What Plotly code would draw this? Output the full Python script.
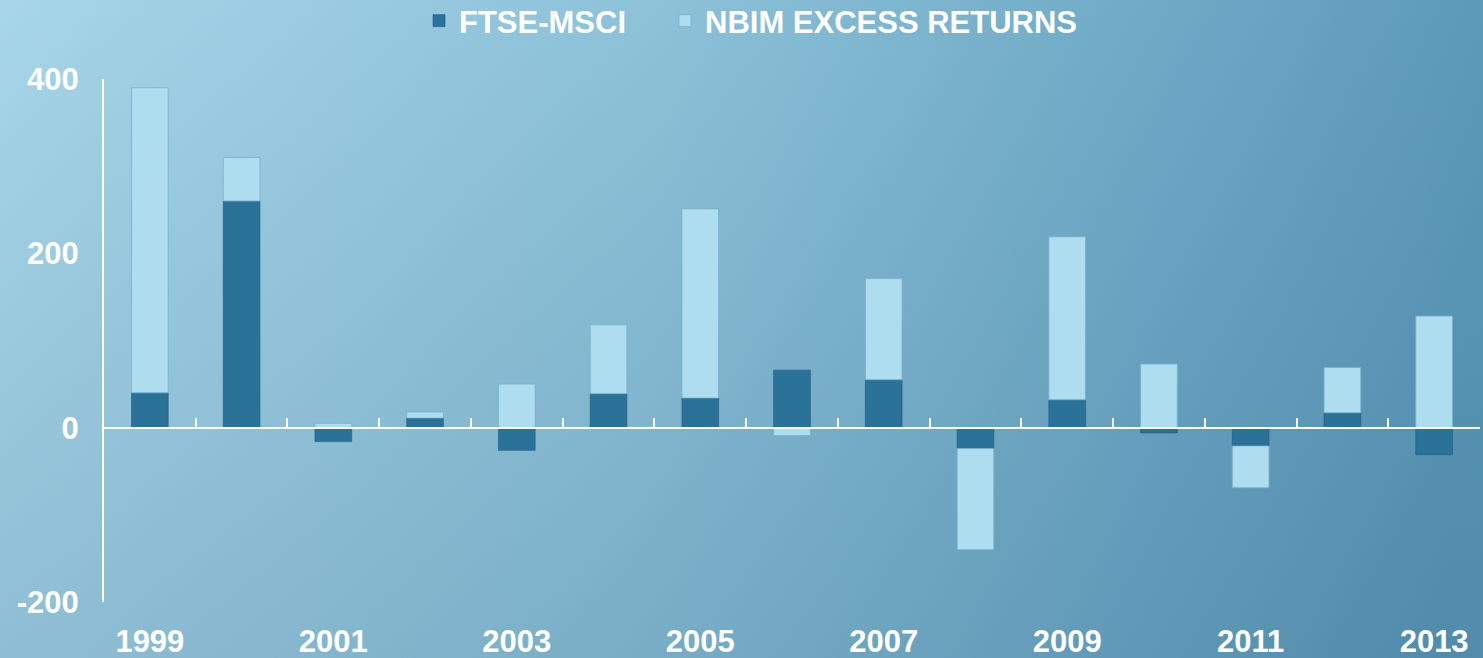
import base64
import plotly.graph_objects as go

years = [str(y) for y in range(1999, 2014)]
ftse_msci = [40, 260, -16, 11, -26, 39, 34, 66, 55, -24, 32, -6, -21, 17, -31]
nbim_excess = [350, 50, 5, 7, 50, 79, 217, -9, 116, -116, 187, 73, -48, 52, 128]
tick_labels = ["1999", "2001", "2003", "2005", "2007", "2009", "2011", "2013"]
y_ticks = [-200, 0, 200, 400]
y_tick_text = ["-200", "0", "200", "400"]

W, H = 1483, 658
ML, MR, MT, MB = 104, 3, 79, 56
PW, PH = W - ML - MR, H - MT - MB

svg = f'''<svg xmlns="http://www.w3.org/2000/svg" width="{W}" height="{H}" viewBox="0 0 {W} {H}" preserveAspectRatio="none">
<defs>
<linearGradient id="h" gradientUnits="userSpaceOnUse" x1="0" y1="0" x2="{W}" y2="120">
<stop offset="0" stop-color="#A7D5E9"/>
<stop offset="0.45" stop-color="#8CC1D8"/>
<stop offset="1" stop-color="#5C99B9"/>
</linearGradient>
<linearGradient id="v" x1="0" y1="0" x2="0" y2="1">
<stop offset="0" stop-color="#0A3A5E" stop-opacity="0"/>
<stop offset="1" stop-color="#0A3A5E" stop-opacity="0.14"/>
</linearGradient>
</defs>
<rect width="{W}" height="{H}" fill="url(#h)"/>
<rect width="{W}" height="{H}" fill="url(#v)"/>
</svg>'''
src = "data:image/svg+xml;base64," + base64.b64encode(svg.encode()).decode()

x_idx = list(range(len(years)))
FAM = "Liberation Sans, Arial, sans-serif"
tfont = dict(family=FAM, size=31, color="white", weight="bold")

fig = go.Figure()
fig.add_trace(go.Bar(
    x=x_idx, y=ftse_msci, name="FTSE-MSCI", width=0.4, legend="legend",
    marker=dict(color="#2B7299", line=dict(color="rgba(30,90,130,0.6)", width=1)),
))
fig.add_trace(go.Bar(
    x=x_idx, y=nbim_excess, name="NBIM EXCESS RETURNS", width=0.4, legend="legend2",
    marker=dict(color="#AEDDEF", line=dict(color="rgba(120,175,205,0.8)", width=1)),
))
# invisible helper so the zero-level axis (x2) gets drawn
fig.add_trace(go.Scatter(
    x=x_idx, y=[0] * len(x_idx), xaxis="x2", yaxis="y", mode="markers",
    marker=dict(opacity=0), showlegend=False, hoverinfo="skip",
))

boundaries = [i - 0.5 for i in range(len(years) + 1)]

leg_common = dict(
    orientation="h", xanchor="left", yanchor="middle",
    y=1 + (MT - 21) / PH, font=tfont, bgcolor="rgba(0,0,0,0)",
)

fig.update_layout(
    width=W, height=H,
    margin=dict(l=ML, r=MR, t=MT, b=MB, autoexpand=False),
    barmode="relative",
    paper_bgcolor="rgba(0,0,0,0)",
    plot_bgcolor="rgba(0,0,0,0)",
    font=tfont,
    showlegend=True,
    legend=dict(x=(419 - ML) / PW, **leg_common),
    legend2=dict(x=(665 - ML) / PW, **leg_common),
    images=[dict(
        source=src, xref="paper", yref="paper",
        x=-ML / PW, y=1 + MT / PH, sizex=W / PW, sizey=H / PH,
        xanchor="left", yanchor="top", sizing="stretch", layer="below",
    )],
    xaxis=dict(
        range=[-0.5, len(years) - 0.5],
        tickmode="array",
        tickvals=[i for i in x_idx if i % 2 == 0],
        ticktext=tick_labels,
        showline=False, showgrid=False, zeroline=False, ticks="",
        tickfont=tfont,
        ticklabelstandoff=18,
        automargin=False,
    ),
    xaxis2=dict(
        overlaying="x", anchor="free", position=1 / 3,
        range=[-0.5, len(years) - 0.5],
        showline=True, linecolor="white", linewidth=2,
        showgrid=False, zeroline=False, showticklabels=False,
        tickmode="array", tickvals=boundaries,
        ticks="inside", ticklen=9, tickwidth=2, tickcolor="white",
    ),
    yaxis=dict(
        range=[-200, 400], tickmode="array", tickvals=y_ticks, ticktext=y_tick_text,
        showline=True, linecolor="white", linewidth=2,
        showgrid=False, zeroline=False, ticks="",
        tickfont=tfont,
        ticklabelstandoff=17,
        automargin=False,
    ),
)

fig.write_html(
    "out.html",
    config={"displayModeBar": False},
    post_script="document.body.style.margin='0';document.body.style.padding='0';",
)
